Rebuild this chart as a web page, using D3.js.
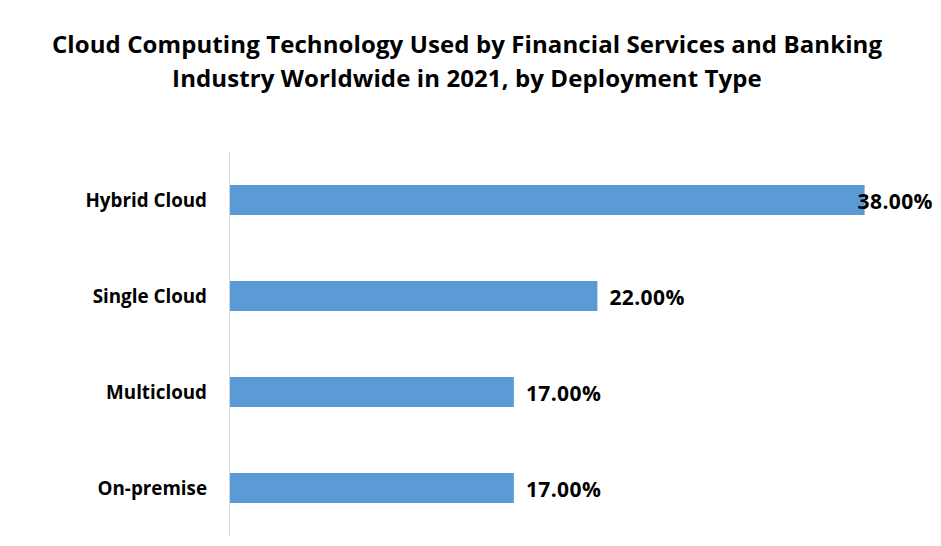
<!DOCTYPE html>
<html><head><meta charset="utf-8">
<script src="https://cdn.jsdelivr.net/npm/d3@7"></script>
<style>body{margin:0;background:#fff}svg{display:block}text{font-family:"Open Sans",Lato,sans-serif;font-weight:bold;fill:#000}</style>
</head><body>
<script>
const categories = ["Hybrid Cloud","Single Cloud","Multicloud","On-premise"];
const values = [38, 22, 17, 17];
const titleLines = ["Cloud Computing Technology Used by Financial Services and Banking","Industry Worldwide in 2021, by Deployment Type"];

const W = 941, H = 546;
const svg = d3.select("body").append("svg").attr("width", W).attr("height", H);

const x = d3.scaleLinear().domain([0, 40]).range([230, 898]);
const y = d3.scaleBand().domain(categories).range([152, 536]).paddingInner(0.6875).paddingOuter(0.34375);

svg.selectAll(".title").data(titleLines).join("text")
  .attr("x", 467).attr("y", (d, i) => 53 + i * 34)
  .attr("text-anchor", "middle").style("font-size", "24px").style("letter-spacing", "0.1px").text(d => d);

svg.selectAll(".bar").data(categories).join("rect")
  .attr("x", x(0)).attr("y", d => y(d))
  .attr("width", (d, i) => x(values[i]) - x(0)).attr("height", y.bandwidth())
  .attr("fill", "#5b9bd5");

svg.append("line").attr("x1", 229.5).attr("x2", 229.5).attr("y1", 152).attr("y2", 536)
  .attr("stroke", "#d9d9d9").attr("stroke-width", 1);

svg.selectAll(".cat").data(categories).join("text")
  .attr("x", 207).attr("y", d => y(d) + y.bandwidth() / 2).attr("dy", "0.35em")
  .attr("text-anchor", "end").style("font-size", "18.8px").text(d => d);

svg.selectAll(".val").data(categories).join("text")
  .attr("x", (d, i) => x(values[i]) + (i === 0 ? -7 : 12)).attr("y", d => y(d) + y.bandwidth() / 2 + 2).attr("dy", "0.35em")
  .attr("text-anchor", "start").style("font-size", "21px").style("letter-spacing", "0.4px").text((d, i) => values[i].toFixed(2) + "%");
</script>
</body></html>
